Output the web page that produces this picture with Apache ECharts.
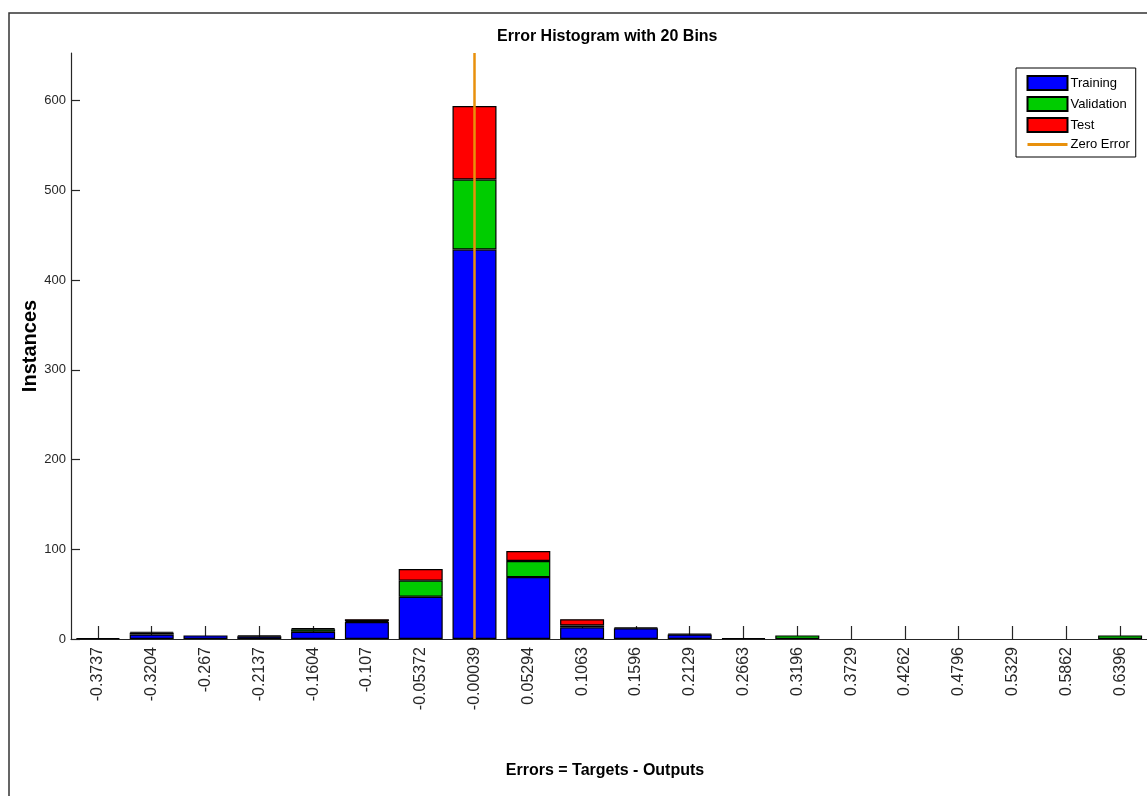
<!DOCTYPE html>
<html>
<head>
<meta charset="utf-8">
<script src="https://cdn.jsdelivr.net/npm/echarts@6/dist/echarts.min.js"></script>
<style>
  html, body { margin: 0; padding: 0; background: #fff; }
  #chart { width: 1147px; height: 796px; }
</style>
</head>
<body>
<div id="chart"></div>
<script>
// Bin centres of the error histogram (tick labels on the x axis)
const bins = ['-0.3737', '-0.3204', '-0.267', '-0.2137', '-0.1604', '-0.107', '-0.05372',
  '-0.00039', '0.05294', '0.1063', '0.1596', '0.2129', '0.2663', '0.3196', '0.3729',
  '0.4262', '0.4796', '0.5329', '0.5862', '0.6396'];

// Instances per bin for each data split
const training   = [1, 5, 4, 3, 8, 19, 47, 434, 69, 13, 12, 5, 1, 0, 0, 0, 0, 0, 0, 0];
const validation = [0, 2, 0, 0, 3, 1, 18, 78, 18, 2, 0, 0, 0, 4, 0, 0, 0, 0, 0, 4];
const test       = [0, 1, 0, 1, 1, 2, 13, 82, 11, 7, 1, 1, 0, 0, 0, 0, 0, 0, 0, 0];

// Y axis ticks and extent
const yTicks = [0, 100, 200, 300, 400, 500, 600];
const yMax = 653;

// Bin holding zero error
const zeroBin = '-0.00039';

const FONT = "'Liberation Sans', Arial, Helvetica, sans-serif";
const INK = '#262626';

// Empty bins get no rectangle at all
const counts = (arr) => arr.map(v => (v === 0 ? '-' : v));
const barStyle = (color) => ({ color: color, borderColor: '#000', borderWidth: 1.2 });

const chart = echarts.init(document.getElementById('chart'), null, { renderer: 'canvas' });

chart.setOption({
  animation: false,
  backgroundColor: '#fff',
  title: {
    text: 'Error Histogram with 20 Bins',
    left: 497, top: 29,
    padding: 0,
    textStyle: { fontFamily: FONT, fontWeight: 'bold', fontSize: 16, color: '#000' }
  },
  graphic: [{
    type: 'rect',
    shape: { x: 9, y: 13, width: 1300, height: 900 },
    style: { fill: 'none', stroke: '#333', lineWidth: 1.5 },
    silent: true
  }],
  legend: {
    orient: 'vertical',
    left: 1016, top: 68,
    padding: [7, 6, 6, 10],
    itemWidth: 40, itemHeight: 14, itemGap: 5,
    backgroundColor: '#fff',
    borderColor: '#000', borderWidth: 1,
    textStyle: { fontFamily: FONT, fontSize: 13, color: '#000', padding: [0, 0, 0, -2] },
    data: [
      { name: 'Training', icon: 'rect' },
      { name: 'Validation', icon: 'rect' },
      { name: 'Test', icon: 'rect' },
      { name: 'Zero Error', itemStyle: { opacity: 0 }, lineStyle: { width: 3 } }
    ]
  },
  grid: { left: 71, top: 53, width: 1093, height: 586, containLabel: false },
  xAxis: {
    type: 'category',
    data: bins,
    boundaryGap: true,
    name: 'Errors = Targets - Outputs',
    nameLocation: 'middle',
    nameGap: 124,
    nameMoveOverlap: false,
    nameTextStyle: { fontFamily: FONT, fontWeight: 'bold', fontSize: 16, color: '#000', padding: [0, 8, 0, 0] },
    axisLine: { show: true, lineStyle: { color: INK, width: 1.2 } },
    axisTick: { show: true, interval: 0, alignWithLabel: true, inside: true, length: 13, lineStyle: { color: INK, width: 1.2 } },
    axisLabel: { rotate: 90, margin: 8, fontFamily: FONT, fontSize: 16, color: INK, interval: 0 },
    splitLine: { show: false }
  },
  yAxis: {
    type: 'value',
    min: 0, max: yMax,
    name: 'Instances',
    nameLocation: 'middle',
    nameGap: 31,
    nameMoveOverlap: false,
    nameTextStyle: { fontFamily: FONT, fontWeight: 'bold', fontSize: 20, color: '#000' },
    axisLine: { show: true, lineStyle: { color: INK, width: 1.2 } },
    axisTick: { show: true, inside: true, length: 9, customValues: yTicks, lineStyle: { color: INK, width: 1.2 } },
    axisLabel: { margin: 5, customValues: yTicks, fontFamily: FONT, fontSize: 13, color: INK },
    splitLine: { show: false }
  },
  series: [
    { name: 'Training', type: 'bar', stack: 'errors', barWidth: 44, data: counts(training), itemStyle: barStyle('#0000FF') },
    { name: 'Validation', type: 'bar', stack: 'errors', barWidth: 44, data: counts(validation), itemStyle: barStyle('#00CC00') },
    { name: 'Test', type: 'bar', stack: 'errors', barWidth: 44, data: counts(test), itemStyle: barStyle('#FF0000') },
    {
      name: 'Zero Error', type: 'line', z: 10,
      symbol: 'none',
      data: [[zeroBin, 0], [zeroBin, yMax]],
      lineStyle: { color: '#E8900C', width: 2.5 },
      itemStyle: { color: '#E8900C' }
    }
  ]
});
</script>
</body>
</html>
